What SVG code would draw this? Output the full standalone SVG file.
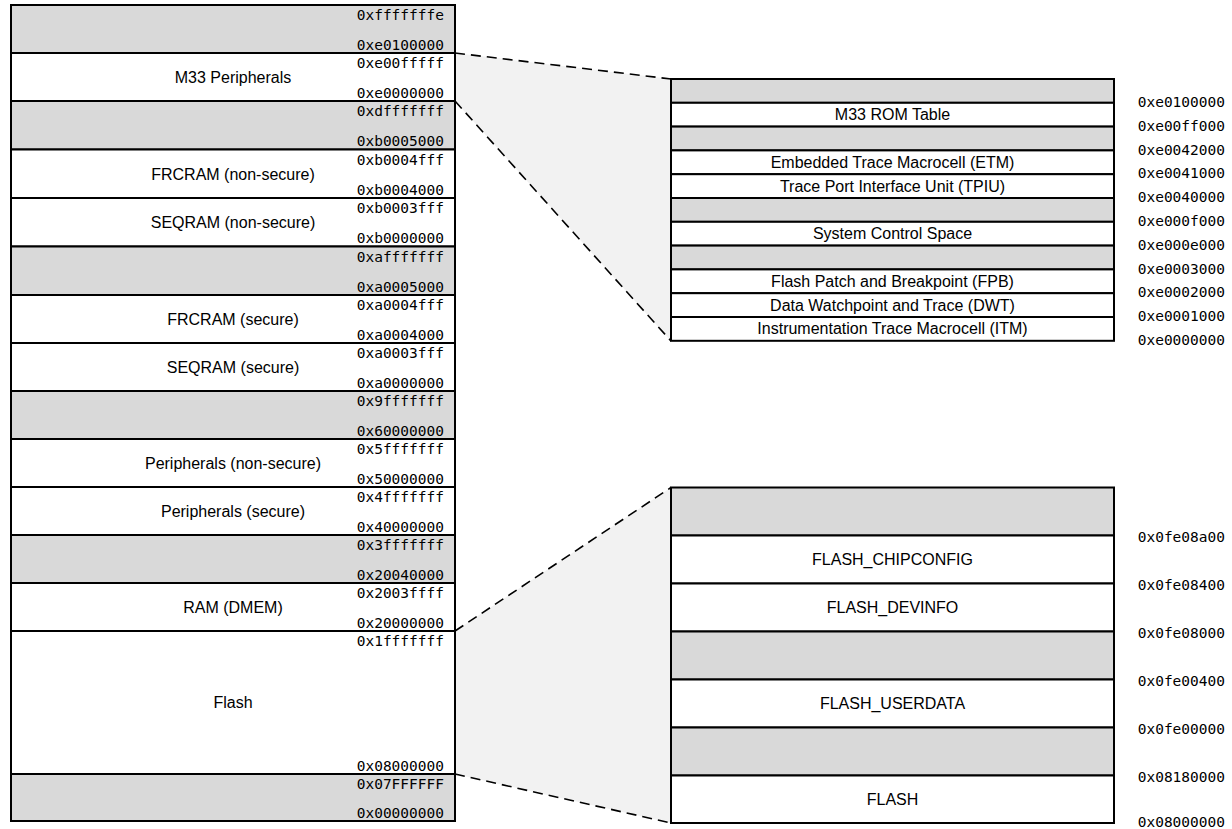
<svg xmlns="http://www.w3.org/2000/svg" width="1232" height="829" viewBox="0 0 1232 829">
<style>
.g{fill:#d9d9d9;stroke:#000;stroke-width:2}
.w{fill:#fff;stroke:#000;stroke-width:2}
.a{font-family:"DejaVu Sans Mono","Liberation Mono",monospace;font-size:14.5px;fill:#000;text-anchor:end}
.ar{font-family:"DejaVu Sans Mono","Liberation Mono",monospace;font-size:14.5px;fill:#000;text-anchor:end}
.n{font-family:"Liberation Sans",Arial,sans-serif;font-size:16px;fill:#000;text-anchor:middle}
.m{font-family:"Liberation Sans",Arial,sans-serif;font-size:16px;fill:#000;text-anchor:middle}
.d{fill:none;stroke:#000;stroke-width:1.6;stroke-dasharray:10 6}
.z{fill:#f2f2f2;stroke:none}
</style>
<rect width="1232" height="829" fill="#fff"/>
<g id="zoom-areas">
<polygon class="z" points="455,53 671,79 671,341 455,101"/>
<polygon class="z" points="455,631 671,487.5 671,823 455,774"/>
</g>
<g id="memory-map">
<g id="r-reserved-top"><rect class="g" x="11" y="5" width="444" height="48"/><text class="a" x="444" y="20">0xfffffffe</text><text class="a" x="444" y="49.5">0xe0100000</text></g>
<g id="r-m33"><rect class="w" x="11" y="53" width="444" height="48"/><text class="n" x="233" y="82.5">M33 Peripherals</text><text class="a" x="444" y="68">0xe00fffff</text><text class="a" x="444" y="97.5">0xe0000000</text></g>
<g id="r-reserved-2"><rect class="g" x="11" y="101" width="444" height="48.5"/><text class="a" x="444" y="116">0xdfffffff</text><text class="a" x="444" y="146">0xb0005000</text></g>
<g id="r-frcram-ns"><rect class="w" x="11" y="149.5" width="444" height="48.5"/><text class="n" x="233" y="179.5">FRCRAM (non-secure)</text><text class="a" x="444" y="164.5">0xb0004fff</text><text class="a" x="444" y="194.5">0xb0004000</text></g>
<g id="r-seqram-ns"><rect class="w" x="11" y="198" width="444" height="48.5"/><text class="n" x="233" y="228">SEQRAM (non-secure)</text><text class="a" x="444" y="213">0xb0003fff</text><text class="a" x="444" y="243">0xb0000000</text></g>
<g id="r-reserved-3"><rect class="g" x="11" y="246.5" width="444" height="48.5"/><text class="a" x="444" y="261.5">0xafffffff</text><text class="a" x="444" y="291.5">0xa0005000</text></g>
<g id="r-frcram-s"><rect class="w" x="11" y="295" width="444" height="48"/><text class="n" x="233" y="324.5">FRCRAM (secure)</text><text class="a" x="444" y="310">0xa0004fff</text><text class="a" x="444" y="339.5">0xa0004000</text></g>
<g id="r-seqram-s"><rect class="w" x="11" y="343" width="444" height="48"/><text class="n" x="233" y="372.5">SEQRAM (secure)</text><text class="a" x="444" y="358">0xa0003fff</text><text class="a" x="444" y="387.5">0xa0000000</text></g>
<g id="r-reserved-4"><rect class="g" x="11" y="391" width="444" height="48"/><text class="a" x="444" y="406">0x9fffffff</text><text class="a" x="444" y="435.5">0x60000000</text></g>
<g id="r-periph-ns"><rect class="w" x="11" y="439" width="444" height="48"/><text class="n" x="233" y="468.5">Peripherals (non-secure)</text><text class="a" x="444" y="454">0x5fffffff</text><text class="a" x="444" y="483.5">0x50000000</text></g>
<g id="r-periph-s"><rect class="w" x="11" y="487" width="444" height="48"/><text class="n" x="233" y="516.5">Peripherals (secure)</text><text class="a" x="444" y="502">0x4fffffff</text><text class="a" x="444" y="531.5">0x40000000</text></g>
<g id="r-reserved-5"><rect class="g" x="11" y="535" width="444" height="48"/><text class="a" x="444" y="550">0x3fffffff</text><text class="a" x="444" y="579.5">0x20040000</text></g>
<g id="r-ram"><rect class="w" x="11" y="583" width="444" height="48"/><text class="n" x="233" y="612.5">RAM (DMEM)</text><text class="a" x="444" y="598">0x2003ffff</text><text class="a" x="444" y="627.5">0x20000000</text></g>
<g id="r-flash"><rect class="w" x="11" y="631" width="444" height="143"/><text class="n" x="233" y="708">Flash</text><text class="a" x="444" y="646">0x1fffffff</text><text class="a" x="444" y="770.5">0x08000000</text></g>
<g id="r-reserved-6"><rect class="g" x="11" y="774" width="444" height="47"/><text class="a" x="444" y="789">0x07FFFFFF</text><text class="a" x="444" y="817.5">0x00000000</text></g>
</g>
<g id="m33-detail">
<g id="m-gap1"><rect class="g" x="671" y="79" width="443" height="23.8"/></g>
<g id="m-rom"><rect class="w" x="671" y="102.8" width="443" height="23.8"/><text class="m" x="892.5" y="120.2">M33 ROM Table</text></g>
<g id="m-gap2"><rect class="g" x="671" y="126.6" width="443" height="23.8"/></g>
<g id="m-etm"><rect class="w" x="671" y="150.4" width="443" height="23.8"/><text class="m" x="892.5" y="167.8">Embedded Trace Macrocell (ETM)</text></g>
<g id="m-tpiu"><rect class="w" x="671" y="174.2" width="443" height="23.8"/><text class="m" x="892.5" y="191.6">Trace Port Interface Unit (TPIU)</text></g>
<g id="m-gap3"><rect class="g" x="671" y="198" width="443" height="23.8"/></g>
<g id="m-scs"><rect class="w" x="671" y="221.8" width="443" height="23.8"/><text class="m" x="892.5" y="239.2">System Control Space</text></g>
<g id="m-gap4"><rect class="g" x="671" y="245.6" width="443" height="23.8"/></g>
<g id="m-fpb"><rect class="w" x="671" y="269.4" width="443" height="23.8"/><text class="m" x="892.5" y="286.8">Flash Patch and Breakpoint (FPB)</text></g>
<g id="m-dwt"><rect class="w" x="671" y="293.2" width="443" height="23.8"/><text class="m" x="892.5" y="310.6">Data Watchpoint and Trace (DWT)</text></g>
<g id="m-itm"><rect class="w" x="671" y="317" width="443" height="23.8"/><text class="m" x="892.5" y="334.4">Instrumentation Trace Macrocell (ITM)</text></g>
<g id="m-addr">
<text class="ar" x="1225" y="107">0xe0100000</text>
<text class="ar" x="1225" y="130.8">0xe00ff000</text>
<text class="ar" x="1225" y="154.6">0xe0042000</text>
<text class="ar" x="1225" y="178.4">0xe0041000</text>
<text class="ar" x="1225" y="202.2">0xe0040000</text>
<text class="ar" x="1225" y="226">0xe000f000</text>
<text class="ar" x="1225" y="249.8">0xe000e000</text>
<text class="ar" x="1225" y="273.6">0xe0003000</text>
<text class="ar" x="1225" y="297.4">0xe0002000</text>
<text class="ar" x="1225" y="321.2">0xe0001000</text>
<text class="ar" x="1225" y="345">0xe0000000</text>
</g>
</g>
<g id="flash-detail">
<g id="f-gap1"><rect class="g" x="671" y="487.5" width="443" height="48"/></g>
<g id="f-chipconfig"><rect class="w" x="671" y="535.5" width="443" height="48"/><text class="m" x="892.5" y="565">FLASH_CHIPCONFIG</text></g>
<g id="f-devinfo"><rect class="w" x="671" y="583.5" width="443" height="48"/><text class="m" x="892.5" y="613">FLASH_DEVINFO</text></g>
<g id="f-gap2"><rect class="g" x="671" y="631.5" width="443" height="48"/></g>
<g id="f-userdata"><rect class="w" x="671" y="679.5" width="443" height="48"/><text class="m" x="892.5" y="709">FLASH_USERDATA</text></g>
<g id="f-gap3"><rect class="g" x="671" y="727.5" width="443" height="48"/></g>
<g id="f-flash"><rect class="w" x="671" y="775.5" width="443" height="47.5"/><text class="m" x="892.5" y="805">FLASH</text></g>
<g id="f-addr">
<text class="ar" x="1225" y="542">0x0fe08a00</text>
<text class="ar" x="1225" y="590">0x0fe08400</text>
<text class="ar" x="1225" y="638">0x0fe08000</text>
<text class="ar" x="1225" y="686">0x0fe00400</text>
<text class="ar" x="1225" y="734">0x0fe00000</text>
<text class="ar" x="1225" y="782">0x08180000</text>
<text class="ar" x="1225" y="827">0x08000000</text>
</g>
</g>
<g id="connectors">
<line class="d" x1="455" y1="53" x2="671" y2="79"/>
<line class="d" x1="455" y1="101" x2="671" y2="341"/>
<line class="d" x1="455" y1="631" x2="671" y2="487.5"/>
<line class="d" x1="455" y1="774" x2="671" y2="823"/>
</g>
</svg>
